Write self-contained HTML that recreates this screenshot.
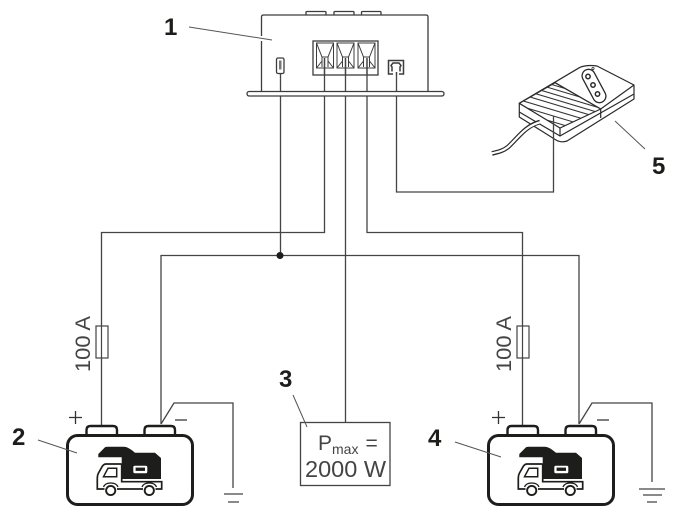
<!DOCTYPE html>
<html><head><meta charset="utf-8"><style>
html,body{margin:0;padding:0;background:#fff}
svg{display:block}
text{font-family:"Liberation Sans",sans-serif;fill:#2a2a2a}
.n{font-weight:700;font-size:24px;fill:#1d1d1b}
.t{font-size:21px;fill:#444}
</style></head><body>
<svg width="682" height="509" viewBox="0 0 682 509" xmlns="http://www.w3.org/2000/svg">
<defs>
<g id="bat">
<path d="M86.500 435V430Q86.500 426 90.500 426H113Q117 426 117 430V435M144.500 435V430Q144.500 426 148.500 426H171Q175 426 175 430V435" fill="#fff" stroke="#1d1d1b" stroke-width="2.400"/>
<rect x="67.500" y="435.500" width="125" height="69" rx="10" fill="#fff" stroke="#1d1d1b" stroke-width="3"/>
<path d="M98.300 457.300V454L105 447.300Q106 446.700 108 446.700H124Q128 446.700 135 452.700H155L161 458V479H121.700V457.300Z" fill="#1d1d1b"/>
<rect x="133.300" y="465.700" width="14" height="7.500" rx="1.500" fill="#fff"/>
<rect x="135.600" y="467.600" width="9.400" height="3.300" fill="#1d1d1b"/>
<path d="M121.700 464H106Q104 464 102.500 466L98.500 473Q97.300 475 97.300 478V489H161.700V481.700H121.700Z" fill="#fff"/>
<path d="M121.700 464H106Q104 464 102.500 466L98.500 473Q97.300 475 97.300 478V489H104.500M117 489H143M155.500 489H161.700V481.700H121.700V464" fill="none" stroke="#1d1d1b" stroke-width="1.700"/>
<path d="M108 468.300H116.700V476.700H103.500Z" fill="#fff" stroke="#1d1d1b" stroke-width="1.500"/>
<path d="M103.500 487Q105 483 110.700 483Q116.500 483 118 487M142 487Q143.500 483 149.300 483Q155 483 156.500 487" fill="none" stroke="#1d1d1b" stroke-width="1.200"/>
<circle cx="110.700" cy="490.500" r="4.600" fill="#fff" stroke="#1d1d1b" stroke-width="1.900"/>
<circle cx="149.300" cy="490.500" r="4.600" fill="#fff" stroke="#1d1d1b" stroke-width="1.900"/>
</g>
<clipPath id="stripes"><path d="M519.300 103.300L555 82.700L600.700 109L560 128Z"/></clipPath>
<g id="cell" fill="none">
<rect x="0" y="0" width="17" height="25"/>
<path d="M0 0L5.500 14H11.500L17 0M5.500 14V24M11.500 14V24M0 25L5.500 18M17 25L11.500 18"/>
</g>
</defs>

<!-- Wires -->
<g fill="none" stroke="#444" stroke-width="1.300">
<path d="M280.500 73V255"/>
<path d="M324.500 58V232.500H101.500V426"/>
<path d="M345.500 58V422"/>
<path d="M367 58V232.500H522.500V426"/>
<path d="M161 424V255.500H579V424"/>
<path d="M396.500 72V192H553.500V150"/>
<path d="M161 424L174 403H233V488"/>
<path d="M579 424L592 403H652V482"/>
<path d="M224 494H243M228 502H239"/>
<path d="M639 489H665M643 495H662M647 502H657"/>
</g>
<circle cx="280" cy="255.500" r="3.500" fill="#1d1d1b"/>

<!-- Device -->
<g fill="none" stroke="#3c3c3c" stroke-width="1.300">
<path d="M261.500 36V17Q261.500 15 263.500 15H426Q428 15 428 17V91M261.500 41V91"/>
<path d="M306 15V12.500Q306 11.500 307 11.500H325Q326 11.500 326 12.500V15M334 15V12.500Q334 11.500 335 11.500H353Q354 11.500 354 12.500V15M361.500 15V12.500Q361.500 11.500 362.500 11.500H380Q381 11.500 381 12.500V15"/>
<rect x="247" y="91.500" width="197" height="4.500" rx="2.200" fill="#fff"/>
<rect x="313" y="41" width="65" height="34"/>
<use href="#cell" x="316.500" y="43" stroke-width="1"/>
<use href="#cell" x="337" y="43" stroke-width="1"/>
<use href="#cell" x="358" y="43" stroke-width="1"/>
<rect x="276.500" y="58" width="7.500" height="15.500" rx="1.500"/>
<rect x="279" y="60.500" width="2.500" height="9" fill="#777" stroke="none"/>
<path d="M393 74H388.500V60.500H403.500V74H399M392 71.500V67L391 65.500L393 63H399L401 65.500L400 67V71.500" stroke-width="1.500"/>
</g>
<path d="M324.500 58V75M345.500 58V75M367 58V75M396.500 72V75M280.500 73V75" stroke="#444" stroke-width="1.300"/>

<!-- Remote -->
<g fill="#fff" stroke="#2a2a2a" stroke-width="1.200" stroke-linejoin="round">
<path d="M519.300 103.300L580 67.300Q587 64.500 597 66L634 85V99L567 141Q561 143 556 140L519.300 117Z"/>
<path d="M519.300 112L560 136L634 94" fill="none"/>
<path d="M555 82.700L600.700 109L634 85M600.700 109V118M560 128V136" fill="none"/>
<path d="M519.300 103.300L555 82.700L600.700 109L560 128Z" fill="#fff"/>
<g clip-path="url(#stripes)" fill="none" stroke="#333" stroke-width="1">
<path d="M510 91L620 124M510 97L620 130M510 103L620 136M510 109L620 142M510 86L620 119M510 81L620 114M510 76L620 109M510 72L620 105"/>
</g>
<rect x="587.500" y="68" width="13" height="36" rx="6.500" transform="rotate(-28 594 86)" fill="none" stroke-width="1.300"/>
<circle cx="588" cy="76.500" r="2.200" fill="none" stroke-width="1.500"/>
<circle cx="593" cy="85" r="2.200" fill="none" stroke-width="1.500"/>
<circle cx="597.500" cy="94" r="2.200" fill="none" stroke-width="1.500"/>
<circle cx="593" cy="68.500" r="1.100" fill="none" stroke-width=".8"/>
</g>
<path d="M540 122C525 126 518 138 508 147C503 151 498 152 492 153.500" fill="none" stroke="#2a2a2a" stroke-width="4.600"/>
<path d="M541 122C525 126 518 138 508 147C503 151 498 152 491 153.500" fill="none" stroke="#fff" stroke-width="2.200"/>
<path d="M553.500 116V150" stroke="#444" stroke-width="1.300"/>

<!-- Fuses -->
<rect x="96" y="326" width="12" height="32" fill="#fff" stroke="#444" stroke-width="1.200"/>
<rect x="517" y="326" width="12" height="32" fill="#fff" stroke="#444" stroke-width="1.200"/>
<path d="M101.500 326V358M522.500 326V358" stroke="#444" stroke-width="1.200"/>
<text class="t" transform="translate(90 372) rotate(-90)" textLength="56" lengthAdjust="spacingAndGlyphs">100 A</text>
<text class="t" transform="translate(511 372) rotate(-90)" textLength="56" lengthAdjust="spacingAndGlyphs">100 A</text>

<!-- Batteries -->
<use href="#bat"/>
<use href="#bat" x="421"/>
<path d="M69 417.500H82M75.500 411V424M175 420H187M492 417.500H505M498.500 411V424M597 420H609" fill="none" stroke="#333" stroke-width="1.300"/>

<!-- Power box -->
<rect x="300.500" y="422.500" width="89.500" height="63" fill="#fff" stroke="#444" stroke-width="1.300"/>
<text x="318" y="450" font-size="21" style="fill:#444">P<tspan font-size="14" dy="4">max</tspan><tspan dy="-4" dx="7">=</tspan></text>
<text x="305" y="477" font-size="23" style="fill:#444" textLength="81" lengthAdjust="spacingAndGlyphs">2000 W</text>

<!-- Leaders -->
<g stroke="#555" stroke-width="1" fill="none">
<path d="M189 27L272 40M38 440L77 453M293 395L307 427M455 442L501 457M615 121L645 149"/>
</g>
<text class="n" x="164" y="35">1</text>
<text class="n" x="12" y="445">2</text>
<text class="n" x="279" y="387">3</text>
<text class="n" x="428" y="446">4</text>
<text class="n" x="652" y="174">5</text>
</svg>
</body></html>
